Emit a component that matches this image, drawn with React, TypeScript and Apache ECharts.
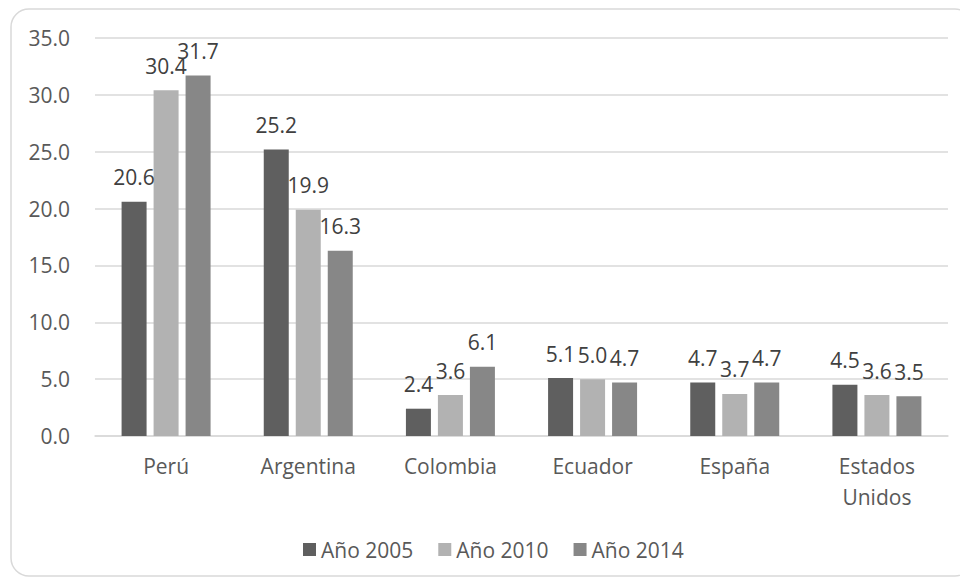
import React, { useEffect, useRef } from "react";
import * as echarts from "echarts";

const categories = ["Perú", "Argentina", "Colombia", "Ecuador", "España", "Estados\nUnidos"];
const seriesNames = ["Año 2005", "Año 2010", "Año 2014"];
const values2005 = [20.6, 25.2, 2.4, 5.1, 4.7, 4.5];
const values2010 = [30.4, 19.9, 3.6, 5.0, 3.7, 3.6];
const values2014 = [31.7, 16.3, 6.1, 4.7, 4.7, 3.5];
const colors = ["#5f5f5f", "#b2b2b2", "#878787"];

const FONT = "'Open Sans', 'Liberation Sans', sans-serif";

export default function App() {
  const ref = useRef<HTMLDivElement>(null);
  useEffect(() => {
    if (!ref.current) return;
    const chart = echarts.init(ref.current, null, { renderer: "svg" });
    const data = [values2005, values2010, values2014];
    chart.setOption({
      animation: false,
      backgroundColor: "#ffffff",
      graphic: [
        {
          type: "rect",
          shape: { x: 11, y: 9, width: 962, height: 567, r: 18 },
          style: { fill: "none", stroke: "#d9d9d9", lineWidth: 1.5 },
          silent: true,
          z: -1,
        },
      ],
      grid: { left: 95, right: 12, top: 38, bottom: 146, containLabel: false },
      legend: {
        data: seriesNames,
        top: 534,
        left: 298,
        icon: "rect",
        itemWidth: 13,
        itemHeight: 13,
        itemGap: 25,
        textStyle: { fontFamily: FONT, fontSize: 21, color: "#595959" },
      },
      xAxis: {
        type: "category",
        data: categories,
        axisLine: { lineStyle: { color: "#d9d9d9", width: 1.5 } },
        axisTick: { show: false },
        axisLabel: {
          fontFamily: FONT,
          fontSize: 21,
          color: "#595959",
          margin: 14,
          lineHeight: 31,
          interval: 0,
        },
      },
      yAxis: {
        type: "value",
        min: 0,
        max: 35,
        interval: 5,
        axisLine: { show: false },
        axisTick: { show: false },
        splitLine: { lineStyle: { color: "#d9d9d9", width: 1.5 } },
        axisLabel: {
          fontFamily: FONT,
          fontSize: 21,
          color: "#595959",
          margin: 25,
          formatter: (v: number) => v.toFixed(1),
        },
      },
      series: seriesNames.map((name, i) => ({
        name,
        type: "bar",
        data: data[i],
        barWidth: 25,
        barGap: "28%",
        itemStyle: { color: colors[i] },
        label: {
          show: true,
          position: "top",
          distance: 14,
          fontFamily: FONT,
          fontSize: 21,
          color: "#404040",
          formatter: (p: any) => Number(p.value).toFixed(1),
        },
      })),
    });
    return () => chart.dispose();
  }, []);
  return (
    <div
      ref={ref}
      style={{ position: "absolute", left: 0, top: 0, width: 960, height: 582 }}
    />
  );
}
